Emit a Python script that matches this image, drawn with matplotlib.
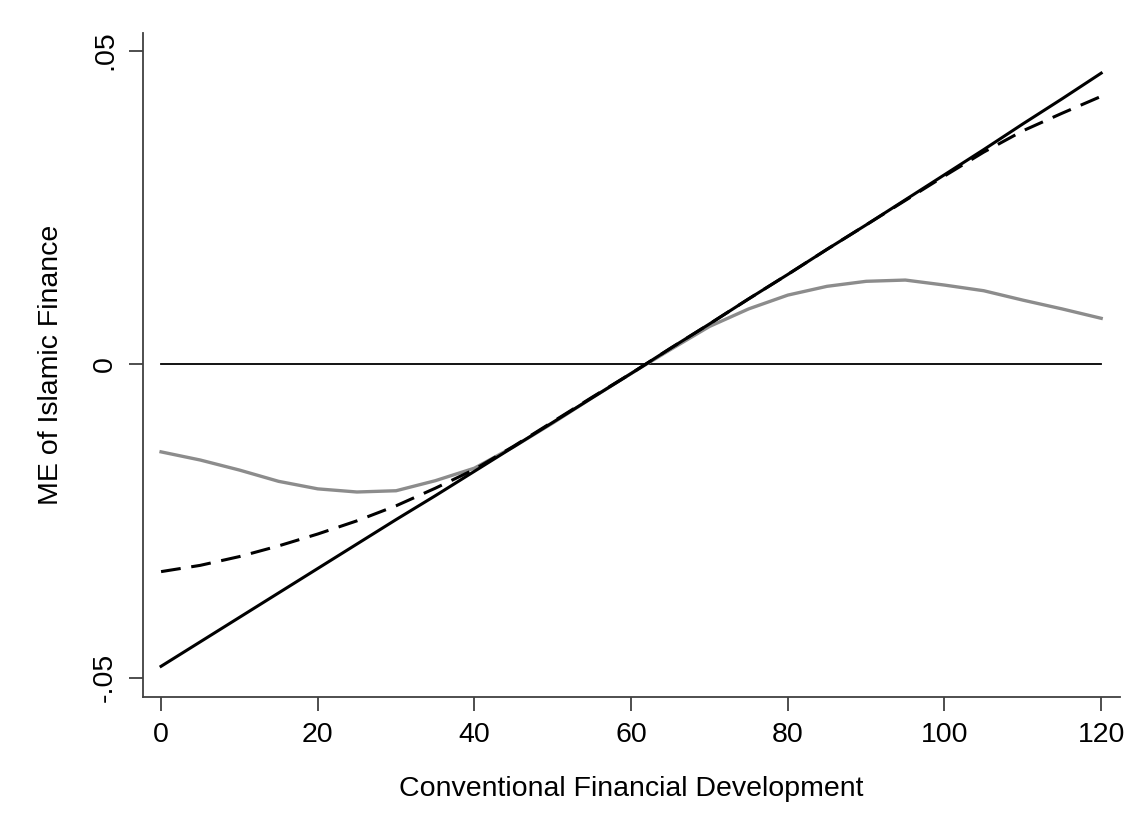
import matplotlib
matplotlib.use('Agg')
import matplotlib.pyplot as plt

plt.rcParams['font.family'] = ['Liberation Sans', 'DejaVu Sans']

# x grid for all series
x = [0, 5, 10, 15, 20, 25, 30, 35, 40, 45, 50, 55, 60, 65, 70, 75, 80, 85, 90, 95, 100, 105, 110, 115, 120]

# solid black (linear model)
me_linear = [-0.0482, -0.0443, -0.0404, -0.0365, -0.0326, -0.0287, -0.0248, -0.0210, -0.0171, -0.0132,
             -0.0093, -0.0054, -0.0015, 0.0025, 0.0064, 0.0104, 0.0143, 0.0183, 0.0222, 0.0262,
             0.0302, 0.0342, 0.0383, 0.0423, 0.0464]

# dashed black
me_dashed = [-0.0331, -0.0321, -0.0307, -0.0290, -0.0271, -0.0250, -0.0226, -0.0198, -0.0168, -0.0131,
             -0.0092, -0.0053, -0.0015, 0.0025, 0.0064, 0.0104, 0.0143, 0.0183, 0.0222, 0.0261,
             0.0300, 0.0338, 0.0372, 0.0400, 0.0427]

# gray curve
me_gray = [-0.0140, -0.0153, -0.0169, -0.0187, -0.0199, -0.0204, -0.0202, -0.0186, -0.0166, -0.0132,
           -0.0094, -0.0054, -0.0015, 0.0023, 0.0060, 0.0088, 0.0110, 0.0124, 0.0132, 0.0134,
           0.0126, 0.0117, 0.0102, 0.0088, 0.0073]

xticks = [0, 20, 40, 60, 80, 100, 120]
yticks = [-0.05, 0, 0.05]
ytick_labels = ['-.05', '0', '.05']

fig = plt.figure(figsize=(11.48, 8.4), dpi=100)
ax = fig.add_axes([0.1246, 0.1702, 0.851, 0.7905])

ax.plot([0, 120], [0, 0], color='black', lw=1.3)
ax.plot(x, me_gray, color='#8c8c8c', lw=2.4, solid_joinstyle='round')
ax.plot(x, me_dashed, color='black', lw=2.2, linestyle=(0, (6.5, 3.5)))
ax.plot(x, me_linear, color='black', lw=2.2)

ax.set_xlim(-2.3, 122.4)
ax.set_ylim(-0.0531, 0.0528)

ax.spines['top'].set_visible(False)
ax.spines['right'].set_visible(False)
for s in ['left', 'bottom']:
    ax.spines[s].set_color('#404040')
    ax.spines[s].set_linewidth(1.3)

ax.set_xticks(xticks)
ax.set_yticks(yticks)
ax.set_yticklabels(ytick_labels, rotation=90, va='center')
ax.tick_params(direction='out', length=10, width=1.3, color='#404040', labelsize=20.5, pad=8)

ax.set_xlabel('Conventional Financial Development', fontsize=20.5, labelpad=20)
ax.set_ylabel('ME of Islamic Finance', fontsize=20.5, labelpad=20)

fig.savefig('out.png', dpi=100)
